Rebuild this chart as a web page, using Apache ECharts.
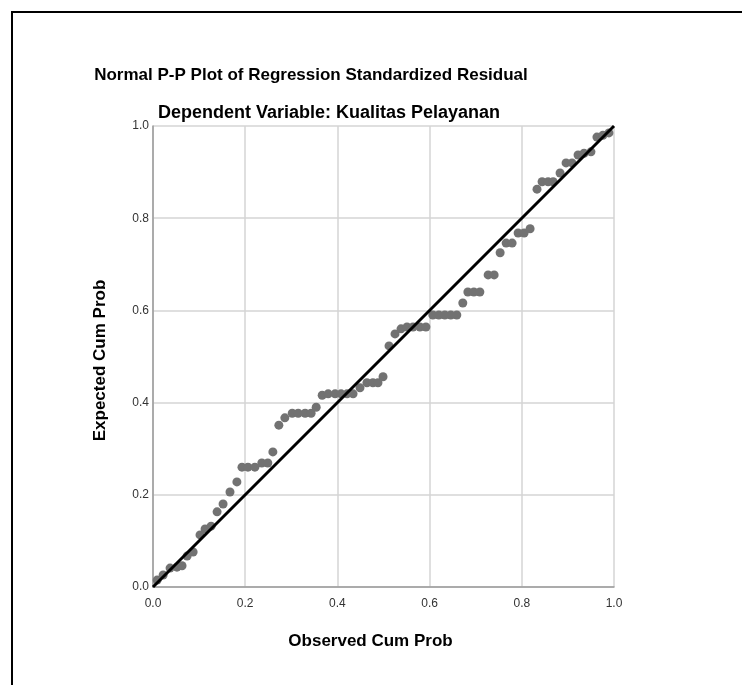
<!DOCTYPE html>
<html>
<head>
<meta charset="utf-8">
<script src="https://cdn.jsdelivr.net/npm/echarts@6/dist/echarts.min.js"></script>
<style>
  html, body { margin: 0; padding: 0; background: #fff; }
  #chart { width: 742px; height: 685px; }
</style>
</head>
<body>
<div id="chart"></div>
<script>
  // observed vs expected cumulative probability
  var observed = [
    0.009, 0.022, 0.037, 0.052, 0.063, 0.074, 0.087, 0.102, 0.113, 0.126,
    0.139, 0.152, 0.167, 0.182, 0.193, 0.206, 0.221, 0.236, 0.249, 0.260,
    0.273, 0.286, 0.302, 0.315, 0.330, 0.343, 0.354, 0.367, 0.380, 0.395,
    0.408, 0.421, 0.434, 0.449, 0.464, 0.477, 0.488, 0.499, 0.512, 0.525,
    0.538, 0.551, 0.564, 0.579, 0.592, 0.607, 0.620, 0.633, 0.646, 0.659,
    0.672, 0.683, 0.696, 0.709, 0.727, 0.740, 0.753, 0.766, 0.779, 0.792,
    0.805, 0.818, 0.833, 0.844, 0.857, 0.868, 0.883, 0.896, 0.909, 0.922,
    0.935, 0.950, 0.963, 0.976, 0.989
  ]
  var expected = [
    0.015, 0.026, 0.041, 0.043, 0.046, 0.067, 0.076, 0.113, 0.126, 0.132,
    0.163, 0.180, 0.206, 0.228, 0.260, 0.260, 0.260, 0.269, 0.269, 0.293,
    0.351, 0.367, 0.377, 0.377, 0.377, 0.377, 0.390, 0.416, 0.419, 0.419,
    0.419, 0.419, 0.419, 0.432, 0.443, 0.443, 0.443, 0.456, 0.523, 0.549,
    0.560, 0.564, 0.564, 0.564, 0.564, 0.590, 0.590, 0.590, 0.590, 0.590,
    0.616, 0.640, 0.640, 0.640, 0.677, 0.677, 0.725, 0.746, 0.746, 0.768,
    0.768, 0.777, 0.863, 0.879, 0.879, 0.879, 0.898, 0.920, 0.920, 0.937,
    0.941, 0.944, 0.976, 0.980, 0.985
  ]
  var refLine = [[0, 0], [1, 1]]

  var points = observed.map(function (x, i) { return [x, expected[i]] })
  var fontFamily = 'Arial, "Liberation Sans", sans-serif'

  var myChart = echarts.init(document.getElementById('chart'))
  var option = {
    animation: false,
    backgroundColor: '#fff',
    graphic: [
      {
        type: 'rect',
        shape: { x: 12, y: 12, width: 900, height: 900 },
        style: { fill: 'none', stroke: '#000', lineWidth: 2 },
        silent: true
      },
      {
        type: 'text',
        x: 311, y: 75,
        style: {
          text: 'Normal P-P Plot of Regression Standardized Residual',
          font: 'bold 17px ' + fontFamily,
          fill: '#000',
          textAlign: 'center',
          textVerticalAlign: 'middle'
        }
      },
      {
        type: 'text',
        x: 329, y: 113,
        style: {
          text: 'Dependent Variable: Kualitas Pelayanan',
          font: 'bold 18px ' + fontFamily,
          fill: '#000',
          textAlign: 'center',
          textVerticalAlign: 'middle'
        }
      }
    ],
    grid: {
      left: 153,
      top: 126,
      width: 461,
      height: 461
    },
    xAxis: {
      type: 'value',
      min: 0,
      max: 1,
      interval: 0.2,
      name: 'Observed Cum Prob',
      nameLocation: 'middle',
      nameGap: 46,
      nameTextStyle: {
        fontSize: 17, fontWeight: 'bold', color: '#000', fontFamily: fontFamily,
        padding: [0, 26, 0, 0]
      },
      axisLine: { lineStyle: { color: '#9a9a9a', width: 1.5 } },
      axisTick: { show: false },
      axisLabel: {
        margin: 11,
        fontSize: 12,
        color: '#333',
        fontFamily: fontFamily,
        formatter: function (v) { return v.toFixed(1) }
      },
      splitLine: { lineStyle: { color: '#d4d4d4', width: 1.5 } }
    },
    yAxis: {
      type: 'value',
      min: 0,
      max: 1,
      interval: 0.2,
      name: 'Expected Cum Prob',
      nameLocation: 'middle',
      nameRotate: 90,
      nameGap: 44,
      nameTextStyle: {
        fontSize: 17, fontWeight: 'bold', color: '#000', fontFamily: fontFamily,
        padding: [0, 8, 0, 0]
      },
      axisLine: { show: true, lineStyle: { color: '#9a9a9a', width: 1.5 } },
      axisTick: { show: false },
      axisLabel: {
        margin: 4,
        fontSize: 12,
        color: '#333',
        fontFamily: fontFamily,
        formatter: function (v) { return v.toFixed(1) }
      },
      splitLine: { lineStyle: { color: '#d4d4d4', width: 1.5 } }
    },
    series: [{
      name: 'points',
      type: 'scatter',
      data: points,
      symbol: 'circle',
      symbolSize: 9,
      itemStyle: { color: '#727272', opacity: 1 },
      z: 2
    }, {
      name: 'reference',
      type: 'line',
      data: refLine,
      symbol: 'none',
      lineStyle: { color: '#000', width: 3 },
      z: 3
    }]
  }
  option && myChart.setOption(option)
</script>
</body>
</html>
